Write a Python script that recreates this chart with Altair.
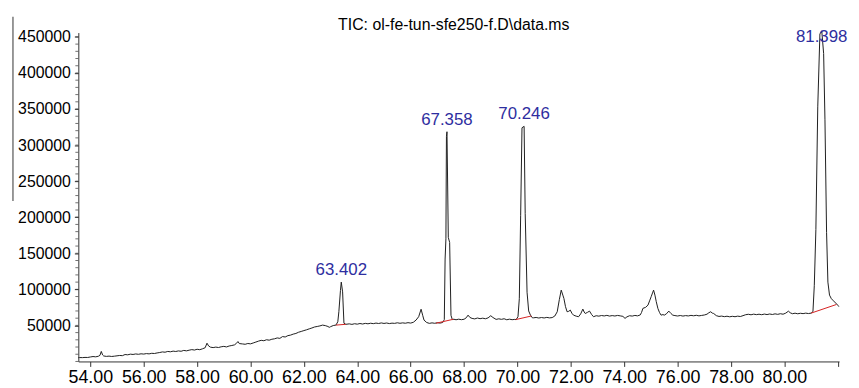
import altair as alt
import pandas as pd

# ---- chromatogram trace (retention time, min / total ion count) ----
rt = [53.55, 53.6, 53.7, 53.8, 53.9, 54.0, 54.1, 54.2, 54.3, 54.36, 54.41, 54.46, 54.5, 54.6, 54.7, 54.8, 54.9,
      55.0, 55.1, 55.2, 55.3, 55.4, 55.5, 55.6, 55.7, 55.8, 55.9, 56.0, 56.1, 56.2, 56.3, 56.4, 56.5, 56.6, 56.7,
      56.8, 56.9, 57.0, 57.1, 57.2, 57.3, 57.4, 57.5, 57.6, 57.7, 57.8, 57.9, 58.0, 58.1, 58.2, 58.3, 58.37, 58.43,
      58.5, 58.6, 58.7, 58.8, 58.9, 59.0, 59.1, 59.2, 59.3, 59.4, 59.47, 59.53, 59.58, 59.7, 59.8, 59.9, 60.0, 60.1,
      60.2, 60.3, 60.4, 60.5, 60.6, 60.7, 60.8, 60.9, 61.0, 61.1, 61.2, 61.3, 61.4, 61.5, 61.6, 61.7, 61.8, 61.9,
      62.0, 62.1, 62.2, 62.3, 62.4, 62.5, 62.6, 62.7, 62.8, 62.9, 62.95, 63.0, 63.1, 63.2,
      63.27, 63.31, 63.37, 63.40, 63.45, 63.50, 63.57,
      63.7, 63.8, 63.9, 64.0, 64.1, 64.2, 64.3, 64.4, 64.5, 64.6, 64.7, 64.8, 64.9, 65.0, 65.1, 65.2, 65.3, 65.4,
      65.5, 65.6, 65.7, 65.8, 65.9, 66.0, 66.1, 66.2, 66.3, 66.39, 66.45, 66.5, 66.6, 66.7, 66.8, 66.9, 67.0, 67.1,
      67.2, 67.26, 67.29, 67.32, 67.34, 67.36, 67.41, 67.46, 67.51, 67.56, 67.62,
      67.7, 67.8, 67.9, 68.0, 68.08, 68.15, 68.22, 68.3, 68.4, 68.5, 68.6, 68.7, 68.8, 68.9, 69.0, 69.08, 69.2,
      69.3, 69.4, 69.5, 69.6, 69.7, 69.8, 69.9,
      69.95, 70.02, 70.07, 70.12, 70.17, 70.25, 70.29, 70.36, 70.42, 70.49, 70.56,
      70.6, 70.7, 70.8, 70.9, 71.0, 71.1, 71.2, 71.3, 71.4, 71.49, 71.57, 71.64, 71.7, 71.74, 71.8, 71.86, 71.92,
      71.98, 72.04, 72.1, 72.2, 72.29, 72.37, 72.45, 72.5, 72.54, 72.62, 72.7, 72.78, 72.85, 72.95, 73.05, 73.15,
      73.25, 73.35, 73.45, 73.55, 73.65, 73.75, 73.85, 73.95, 74.03, 74.1, 74.2, 74.3, 74.4, 74.5, 74.6, 74.65,
      74.7, 74.8, 74.89, 74.95, 75.01, 75.06, 75.1, 75.15, 75.2, 75.26, 75.32, 75.38, 75.45, 75.5, 75.58, 75.67,
      75.75, 75.82, 75.9, 76.0, 76.1, 76.2, 76.3, 76.4, 76.5, 76.6, 76.7, 76.8, 76.9, 77.0, 77.1, 77.17, 77.24,
      77.3, 77.35, 77.45, 77.55, 77.65, 77.75, 77.85, 77.95, 78.05, 78.15, 78.25, 78.35, 78.45, 78.55, 78.65,
      78.75, 78.85, 78.95, 79.05, 79.15, 79.25, 79.35, 79.45, 79.55, 79.65, 79.75, 79.85, 79.95, 80.05, 80.15,
      80.22, 80.3, 80.4, 80.5, 80.6, 80.7, 80.8, 80.9,
      81.0, 81.07, 81.12, 81.18, 81.25, 81.33, 81.40, 81.47, 81.52, 81.58, 81.63, 81.69, 81.76, 81.84, 81.92,
      82.0, 82.04]

tic = [5200, 5400, 5300, 5600, 5500, 6200, 6800, 6400, 7200, 8500, 13900, 9000, 7600, 7000, 7400, 6900, 7300,
       7800, 8300, 8000, 9600, 9200, 10100, 9700, 10400, 9900, 10600, 10200, 10900, 10500, 11300, 11000, 11800, 12400, 13200,
       12800, 13900, 13400, 14300, 13800, 14600, 14100, 15300, 14700, 15600, 16400, 15800, 16900, 16300, 17500, 19000, 25300, 21500,
       19800, 19200, 19900, 19300, 20300, 20900, 20100, 21400, 22100, 23000, 25000, 27600, 24800, 24300, 23800, 24900, 24400, 25600,
       26900, 28200, 29300, 28700, 30100, 29500, 30800, 31400, 32600, 32000, 34500, 33900, 35800, 36500, 37900, 38800, 40500, 41600,
       42800, 43900, 45200, 46400, 47800, 48500, 49300, 50400, 49700, 48500, 47300, 48200, 49800, 50400,
       55000, 69000, 98500, 110000, 96500, 53000, 51500,
       52100, 51400, 52300, 51700, 52600, 51900, 52800, 52200, 53000, 52400, 53200, 52600, 53400, 52700, 53300, 52500, 53100, 52800,
       53600, 52900, 53500, 53000, 53800, 53200, 54300, 57300, 62000, 72400, 64000, 57300, 54000, 52800, 53500, 52900, 53700, 53200,
       54000, 58000, 142000, 170000, 312000, 318500, 172000, 165000, 64000, 58000, 58500,
       57800, 58600, 57900, 58500, 60500, 64200, 61000, 59700, 59000, 60200, 59300, 60000, 59200, 60400, 63400, 61000, 58300,
       59100, 58400, 59200, 57800, 58600, 57900, 58300,
       58000, 62000, 87000, 202000, 324000, 326000, 205000, 96000, 70000, 64000, 60500,
       60500, 61000, 60200, 60900, 60300, 61100, 60400, 60800, 63000, 68900, 86000, 98900, 92000, 87400, 76000, 68900, 69500,
       71200, 66800, 64200, 62800, 62000, 66000, 72600, 68500, 66500, 68000, 69800, 65000, 62000, 63400, 62800, 63700,
       63100, 63900, 62900, 63600, 63000, 63800, 63200, 62500, 59700, 61800, 63400, 62900, 63800, 63200, 64500, 68000,
       73600, 75000, 78100, 84000, 89800, 95000, 98900, 92000, 82900, 73600, 68000, 64200, 65000, 64200, 66000, 69800,
       66500, 64200, 63600, 63000, 63700, 62900, 63600, 63100, 63900, 63300, 64000, 63200, 63800, 64400, 65500, 67500, 68900,
       67000, 66500, 63500, 62400, 62900, 62100, 62700, 61900, 62600, 62000, 62800, 62300, 63500, 64800, 65400,
       64700, 65600, 64900, 65500, 64800, 65700, 65000, 65800, 65100, 66000, 65300, 66200, 65500, 67000, 69700,
       67500, 66200, 66900, 66100, 66800, 66300, 67000, 66400,
       67000, 69000, 105000, 183000, 353000, 454000, 458400, 427000, 335000, 179000, 110000, 92000, 87000, 84000, 81000,
       78000, 76000]

# ---- labelled peaks ----
peak_rt = [63.402, 67.358, 70.246, 81.398]
peak_top = [110000, 318500, 326000, 458400]
peak_label = ["63.402", "67.358", "70.246", "81.398"]

# ---- integration baselines (red) ----
base_start_rt = [63.20, 66.95, 69.93, 81.00]
base_end_rt = [63.57, 67.60, 70.52, 81.95]
base_start_tic = [50400, 53000, 58000, 67000]
base_end_tic = [51500, 58500, 63000, 79000]

# ---- axis ticks ----
x_ticks = [54.0 + 0.5 * i for i in range(57)]
y_major = [50000 * i for i in range(1, 10)]
y_minor = [10000 * i for i in range(46)]

TITLE = "TIC: ol-fe-tun-sfe250-f.D\\data.ms"
FONT = "Liberation Sans"

trace = pd.DataFrame({"rt": rt, "tic": tic})
peaks = pd.DataFrame({"rt": peak_rt, "tic": peak_top, "label": peak_label})
bases = pd.DataFrame({"rt": base_start_rt, "rt2": base_end_rt,
                      "tic": base_start_tic, "tic2": base_end_tic})
minor_df = pd.DataFrame({"tic": y_minor})
title_df = pd.DataFrame({"t": [TITLE]})

xscale = alt.Scale(domain=[53.55, 82.05], nice=False, zero=False)
yscale = alt.Scale(domain=[0, 456000], nice=False, zero=True)

xaxis = alt.Axis(values=x_ticks, title=None, grid=False, tickSize=5, labelPadding=2,
                 labelFontSize=18, labelFont=FONT, labelColor="#000",
                 domainColor="#333", tickColor="#333", labelOverlap=False,
                 labelExpr="datum.value % 2 == 0 && datum.value <= 80 ? format(datum.value, '.2f') : ''")
yaxis = alt.Axis(values=y_major, title=None, grid=False, tickSize=4, labelPadding=4,
                 labelFontSize=16, labelFont=FONT, labelColor="#000",
                 domainColor="#333", tickColor="#333", labelOverlap=False, format="d")

line = alt.Chart(trace).mark_line(color="#1e1e1e", strokeWidth=1, clip=False).encode(
    x=alt.X("rt:Q", scale=xscale, axis=xaxis),
    y=alt.Y("tic:Q", scale=yscale, axis=yaxis),
)

minor = alt.Chart(minor_df).mark_tick(orient="horizontal", size=3, thickness=1, color="#333").encode(
    y="tic:Q", x=alt.value(-1.5)
)

red = alt.Chart(bases).mark_rule(color="#d42020", strokeWidth=1).encode(
    x="rt:Q", x2="rt2:Q", y="tic:Q", y2="tic2:Q",
)

labels_low = alt.Chart(peaks).transform_filter("datum.tic < 400000").mark_text(
    color="#2e2ea0", fontSize=17, font=FONT, baseline="bottom", align="center", dy=-3
).encode(x="rt:Q", y="tic:Q", text="label:N")

labels_high = alt.Chart(peaks).transform_filter("datum.tic >= 400000").mark_text(
    color="#2e2ea0", fontSize=17, font=FONT, baseline="bottom", align="center", dy=15
).encode(x="rt:Q", y="tic:Q", text="label:N")

edge = alt.Chart(trace).mark_rule(color="#777", strokeWidth=1.5).encode(
    x=alt.value(-66), y=alt.value(-16), y2=alt.value(170)
).transform_filter("datum.rt == 53.55")

title = alt.Chart(title_df).mark_text(
    fontSize=16, font=FONT, color="#000", baseline="alphabetic", align="center"
).encode(x=alt.value(379), y=alt.value(-3), text="t:N")

chart = alt.layer(line, minor, red, labels_low, labels_high, edge, title).properties(
    width=768, height=332,
    background="white",
    autosize=alt.AutoSizeParams(type="none"),
    padding={"left": 71, "top": 23, "right": 12, "bottom": 25},
).configure_view(stroke=None).configure_axis(labelOverlap=False)

chart.save("out.html", embed_options={"renderer": "svg", "actions": False})
